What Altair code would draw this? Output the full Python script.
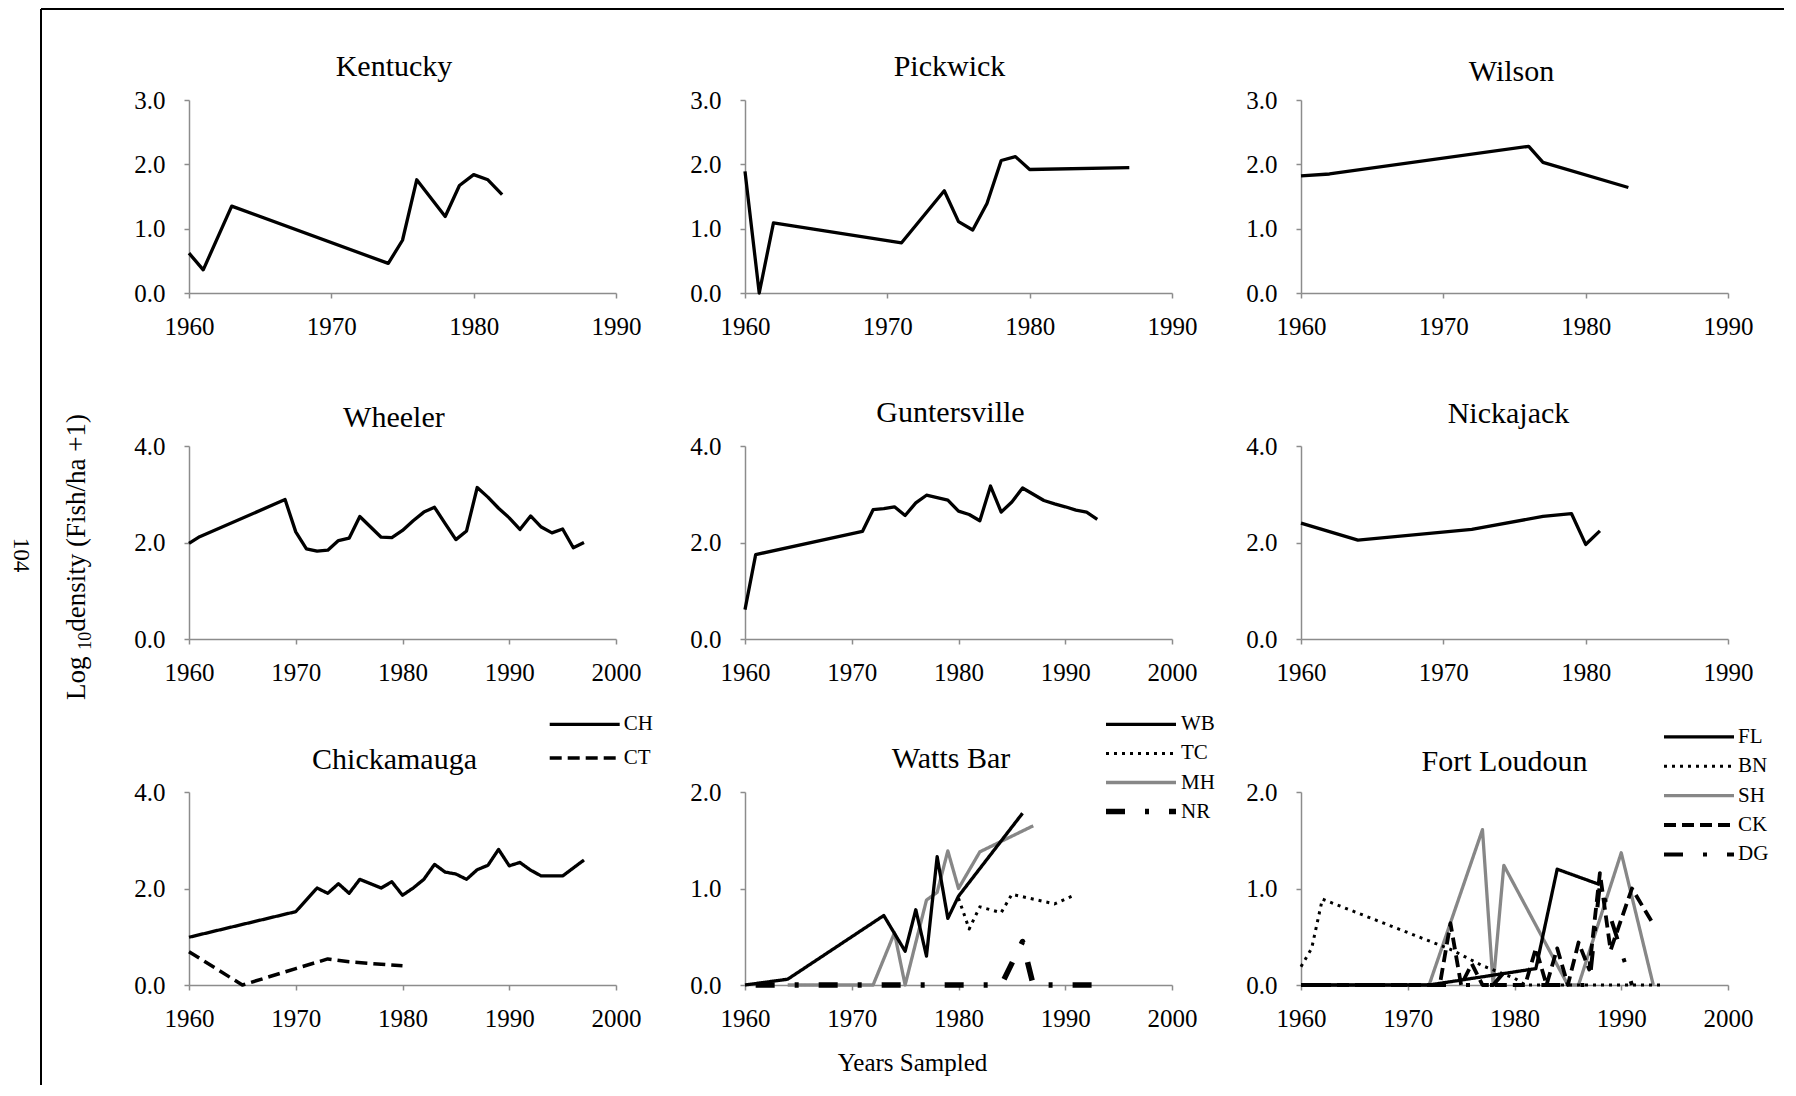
import altair as alt
import pandas as pd

FONT = "Liberation Serif"
BLACK, GRAY, AXIS_GRAY = "#000000", "#878787", "#8c8c8c"

# ---------------- text ----------------
panel_titles = ["Kentucky", "Pickwick", "Wilson", "Wheeler", "Guntersville",
                "Nickajack", "Chickamauga", "Watts Bar", "Fort Loudoun"]
x_axis_title = "Years Sampled"
y_title_parts = ["Log ", "10", "density (Fish/ha +1)"]
page_number = "104"

# ---------------- ticks ----------------
x_ticks_1990 = [1960, 1970, 1980, 1990]
x_ticks_2000 = [1960, 1970, 1980, 1990, 2000]
y_ticks_3 = [0, 1, 2, 3]
y_ticks_4 = [0, 2, 4]
y_ticks_2 = [0, 1, 2]

# ---------------- data ----------------
kentucky_years = [1960, 1961, 1963, 1974, 1975, 1976, 1978, 1979, 1980, 1981, 1982]
kentucky_vals = [0.62, 0.36, 1.35, 0.46, 0.82, 1.76, 1.19, 1.67, 1.84, 1.76, 1.53]

pickwick_years = [1960, 1961, 1962, 1971, 1974, 1975, 1976, 1977, 1978, 1979, 1980, 1987]
pickwick_vals = [1.89, 0.0, 1.09, 0.78, 1.59, 1.11, 0.98, 1.39, 2.06, 2.12, 1.92, 1.95]

wilson_years = [1960, 1962, 1976, 1977, 1983]
wilson_vals = [1.82, 1.85, 2.28, 2.03, 1.64]

wheeler_years = [1960, 1961, 1969, 1970, 1971, 1972, 1973, 1974, 1975, 1976,
                 1978, 1979, 1980, 1981, 1982, 1983, 1984, 1985, 1986, 1987,
                 1988, 1989, 1990, 1991, 1992, 1993, 1994, 1995, 1996, 1997]
wheeler_vals = [1.98, 2.12, 2.89, 2.22, 1.87, 1.82, 1.84, 2.04, 2.09, 2.54,
                2.11, 2.10, 2.25, 2.45, 2.63, 2.73, 2.39, 2.06, 2.24, 3.14,
                2.94, 2.71, 2.51, 2.27, 2.55, 2.32, 2.20, 2.28, 1.89, 2.00]

guntersville_years = [1960, 1961, 1971, 1972, 1973, 1974, 1975, 1976, 1977, 1978,
                      1979, 1980, 1981, 1982, 1983, 1984, 1985, 1986, 1987, 1988,
                      1989, 1990, 1991, 1992, 1993]
guntersville_vals = [0.61, 1.75, 2.23, 2.68, 2.70, 2.74, 2.56, 2.82, 2.98, 2.93,
                     2.88, 2.65, 2.58, 2.45, 3.17, 2.63, 2.84, 3.13, 3.00, 2.87,
                     2.80, 2.74, 2.67, 2.63, 2.48]

nickajack_years = [1960, 1964, 1972, 1977, 1979, 1980, 1981]
nickajack_vals = [2.40, 2.05, 2.27, 2.54, 2.60, 1.96, 2.24]

# Chickamauga
ch_years = [1960, 1970, 1972, 1973, 1974, 1975, 1976, 1978, 1979, 1980,
            1981, 1982, 1983, 1984, 1985, 1986, 1987, 1988, 1989, 1990,
            1991, 1992, 1993, 1995, 1997]
ch_vals = [0.99, 1.52, 2.01, 1.90, 2.10, 1.90, 2.19, 2.01, 2.14, 1.86,
           2.01, 2.19, 2.50, 2.34, 2.30, 2.19, 2.39, 2.48, 2.81, 2.47,
           2.54, 2.38, 2.26, 2.26, 2.59]
ct_years = [1960, 1965, 1970, 1973, 1975, 1978, 1980]
ct_vals = [0.69, 0.0, 0.34, 0.54, 0.48, 0.43, 0.40]

# Watts Bar
wb_years = [1960, 1964, 1973, 1975, 1976, 1977, 1978, 1979, 1980, 1986]
wb_vals = [0.0, 0.06, 0.72, 0.35, 0.78, 0.30, 1.33, 0.69, 0.92, 1.78]
tc_years = [1980, 1981, 1982, 1984, 1985, 1989, 1991]
tc_vals = [0.90, 0.58, 0.81, 0.75, 0.94, 0.84, 0.94]
mh_years = [1964, 1972, 1974, 1975, 1977, 1978, 1979, 1980, 1982, 1987]
mh_vals = [0.0, 0.0, 0.54, 0.0, 0.88, 0.96, 1.39, 1.00, 1.38, 1.65]
nr_years = [1961, 1984, 1986, 1987, 1994]
nr_vals = [0.0, 0.0, 0.45, 0.0, 0.0]

# Fort Loudoun
fl_years = [1960, 1972, 1982, 1984, 1988]
fl_vals = [0.0, 0.0, 0.17, 1.20, 1.04]
bn_years = [1960, 1961, 1962, 1974, 1977, 1980, 1981, 1994]
bn_vals = [0.19, 0.38, 0.89, 0.37, 0.20, 0.07, 0.0, 0.0]
sh_years = [1960, 1972, 1977, 1978, 1979, 1985, 1986, 1990, 1993]
sh_vals = [0.0, 0.0, 1.61, 0.0, 1.24, 0.0, 0.0, 1.37, 0.0]
ck_years = [1960, 1973, 1974, 1975, 1976, 1977, 1981, 1982, 1983, 1984,
            1985, 1986, 1987, 1988, 1989, 1991, 1993]
ck_vals = [0.0, 0.0, 0.64, 0.0, 0.22, 0.0, 0.0, 0.38, 0.0, 0.38,
           0.0, 0.44, 0.16, 1.16, 0.36, 1.00, 0.63]
dg_years = [1960, 1978, 1979, 1980, 1987, 1988, 1991]
dg_vals = [0.0, 0.0, 0.13, 0.0, 0.0, 1.05, 0.0]

# ---------------- layout / style ----------------
W, H = 427, 193
COL_GAP, ROW_GAP = 129, 153
LINE_W = 3.3
SOLID, DASHED, DOTTED, LONGDASHDOT = [1, 0], [12, 6], [3, 5], [19, 20, 4, 20]


def xy(xticks, yticks):
    x = alt.X("year:Q",
              scale=alt.Scale(domain=[xticks[0], xticks[-1]], nice=False, zero=False),
              axis=alt.Axis(values=xticks, format="d", title=None))
    y = alt.Y("value:Q",
              scale=alt.Scale(domain=[yticks[0], yticks[-1]], nice=False),
              axis=alt.Axis(values=yticks, format=".1f", title=None))
    return x, y


def title_text(text, dx, rise):
    return alt.Chart(pd.DataFrame({"t": [text]})).mark_text(
        font=FONT, fontSize=30, align="center", baseline="alphabetic", color=BLACK
    ).encode(text="t:N", x=alt.value(W / 2 + dx), y=alt.value(-rise))


def single_panel(title, years, vals, xticks, yticks, dx, rise, extra=()):
    x, y = xy(xticks, yticks)
    df = pd.DataFrame({"year": years, "value": vals})
    line = alt.Chart(df).mark_line(color=BLACK, strokeWidth=LINE_W, strokeJoin="round").encode(x=x, y=y)
    return alt.layer(line, title_text(title, dx, rise), *extra).properties(width=W, height=H)


def multi_panel(title, names, years_list, vals_list, colors, dashes, widths, order,
                xticks, yticks, dx, rise, lx, ly, row_pad, extra=()):
    frames = []
    for name in order:
        i = names.index(name)
        frames.append(pd.DataFrame({"year": years_list[i], "value": vals_list[i], "series": name}))
    df = pd.concat(frames, ignore_index=True)
    leg = alt.Legend(title=None, orient="none", legendX=lx, legendY=ly, direction="vertical",
                     symbolType="stroke", symbolSize=4900, clipHeight=20, rowPadding=row_pad,
                     labelFont=FONT, labelFontSize=21, labelColor=BLACK, labelOffset=2,
                     symbolOffset=0, padding=0)
    x, y = xy(xticks, yticks)
    line = alt.Chart(df).mark_line(strokeJoin="round").encode(
        x=x, y=y,
        color=alt.Color("series:N", scale=alt.Scale(domain=names, range=colors), legend=leg),
        strokeDash=alt.StrokeDash("series:N", scale=alt.Scale(domain=names, range=dashes), legend=leg),
        strokeWidth=alt.StrokeWidth("series:N", scale=alt.Scale(type="ordinal", domain=names, range=widths),
                                    legend=leg),
    )
    return alt.layer(line, title_text(title, dx, rise), *extra).properties(width=W, height=H)


one = pd.DataFrame({"t": [page_number]})
page_extras = [
    alt.Chart(one).mark_rule(opacity=0, strokeWidth=1).encode(
        x=alt.value(-181), y=alt.value(0), y2=alt.value(10)),
    alt.Chart(one).mark_rule(color=BLACK, strokeWidth=2).encode(
        x=alt.value(-148), y=alt.value(-91), y2=alt.value(985)),
    alt.Chart(one).mark_rule(color=BLACK, strokeWidth=2).encode(
        x=alt.value(-148), x2=alt.value(1595), y=alt.value(-91)),
    alt.Chart(one).mark_text(angle=90, font=FONT, fontSize=23, align="center", baseline="middle",
                             color=BLACK).encode(text="t:N", x=alt.value(-168.3), y=alt.value(455)),
    alt.Chart(pd.DataFrame({"t": [y_title_parts[0]]})).mark_text(
        angle=270, font=FONT, fontSize=27, align="left", baseline="alphabetic", color=BLACK
    ).encode(text="t:N", x=alt.value(-104.3), y=alt.value(600)),
    alt.Chart(pd.DataFrame({"t": [y_title_parts[1]]})).mark_text(
        angle=270, font=FONT, fontSize=18, align="left", baseline="alphabetic", color=BLACK
    ).encode(text="t:N", x=alt.value(-98.5), y=alt.value(549.8)),
    alt.Chart(pd.DataFrame({"t": [y_title_parts[2]]})).mark_text(
        angle=270, font=FONT, fontSize=27, align="left", baseline="alphabetic", color=BLACK
    ).encode(text="t:N", x=alt.value(-104.3), y=alt.value(531.8)),
]

xtitle_layer = [
    alt.Chart(pd.DataFrame({"t": [x_axis_title]})).mark_text(
        font=FONT, fontSize=25, align="center", baseline="middle", color=BLACK
    ).encode(text="t:N", x=alt.value(167.5), y=alt.value(271.3))
]

panels = [
    single_panel(panel_titles[0], kentucky_years, kentucky_vals, x_ticks_1990, y_ticks_3, -8.5, 24, page_extras),
    single_panel(panel_titles[1], pickwick_years, pickwick_vals, x_ticks_1990, y_ticks_3, -9, 24),
    single_panel(panel_titles[2], wilson_years, wilson_vals, x_ticks_1990, y_ticks_3, -3, 19),
    single_panel(panel_titles[3], wheeler_years, wheeler_vals, x_ticks_2000, y_ticks_4, -8.6, 19),
    single_panel(panel_titles[4], guntersville_years, guntersville_vals, x_ticks_2000, y_ticks_4, -8, 24),
    single_panel(panel_titles[5], nickajack_years, nickajack_vals, x_ticks_1990, y_ticks_4, -6, 23.5),
    multi_panel(panel_titles[6], ["CH", "CT"], [ch_years, ct_years], [ch_vals, ct_vals],
                [BLACK, BLACK], [SOLID, DASHED], [LINE_W, 3.5], ["CT", "CH"],
                x_ticks_2000, y_ticks_4, -8, 23.4, 358.7, -77.7, 12.7),
    multi_panel(panel_titles[7], ["WB", "TC", "MH", "NR"],
                [wb_years, tc_years, mh_years, nr_years], [wb_vals, tc_vals, mh_vals, nr_vals],
                [BLACK, BLACK, GRAY, BLACK], [SOLID, DOTTED, SOLID, LONGDASHDOT], [LINE_W, 3, LINE_W, 5.5],
                ["MH", "WB", "TC", "NR"],
                x_ticks_2000, y_ticks_2, -7.5, 24, 358, -77.7, 8.1, xtitle_layer),
    multi_panel(panel_titles[8], ["FL", "BN", "SH", "CK", "DG"],
                [fl_years, bn_years, sh_years, ck_years, dg_years],
                [fl_vals, bn_vals, sh_vals, ck_vals, dg_vals],
                [BLACK, BLACK, GRAY, BLACK, BLACK], [SOLID, DOTTED, SOLID, DASHED, LONGDASHDOT],
                [LINE_W, 3, LINE_W, 3.8, 4],
                ["SH", "BN", "FL", "CK", "DG"],
                x_ticks_2000, y_ticks_2, -10, 21, 361, -65.2, 8.4),
]

chart = alt.concat(*panels, columns=3, spacing={"row": ROW_GAP, "column": COL_GAP},
                   bounds="flush", padding=0)
chart = chart.resolve_scale(
    x="independent", y="independent", color="independent",
    strokeDash="independent", strokeWidth="independent"
).resolve_legend(color="independent", strokeDash="independent", strokeWidth="independent")

chart = chart.configure_view(stroke=None).configure_axis(
    domainColor=AXIS_GRAY, domainWidth=1.5, tickColor=AXIS_GRAY, tickWidth=1.5, tickSize=5,
    labelFont=FONT, labelFontSize=25, labelColor=BLACK, grid=False,
    labelFlush=False, labelOverlap=False,
).configure_axisX(labelPadding=16).configure_axisY(labelPadding=19)

chart.save("out.html", embed_options={"renderer": "svg", "actions": False})
